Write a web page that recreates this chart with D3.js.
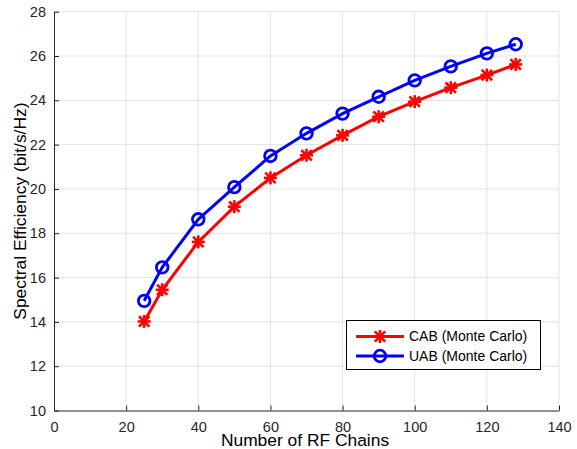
<!DOCTYPE html>
<html><head><meta charset="utf-8">
<script src="https://cdn.jsdelivr.net/npm/d3@7"></script>
<style>body{margin:0;background:#fff}svg{display:block}</style>
</head><body>
<svg id="c" width="577" height="449"></svg>
<script>
const rfChains = [25,30,40,50,60,70,80,90,100,110,120,128];
const cabValues = [14.02,15.45,17.61,19.20,20.50,21.52,22.42,23.26,23.94,24.57,25.14,25.62];
const uabValues = [14.95,16.46,18.63,20.08,21.49,22.51,23.40,24.16,24.90,25.53,26.12,26.53];
const xTicks = [0,20,40,60,80,100,120,140];
const yTicks = [10,12,14,16,18,20,22,24,26,28];
const seriesNames = ["CAB (Monte Carlo)","UAB (Monte Carlo)"];

const svg = d3.select("#c");
const x = d3.scaleLinear().domain([0,140]).range([54,559]);
const y = d3.scaleLinear().domain([10,28]).range([410.5,11.7]);
const axisCol = "#262626", gridCol = "#e3e3e3";
const font = "Liberation Sans, Arial, sans-serif";

// grid
svg.append("g").selectAll("line").data(xTicks.slice(1)).join("line")
  .attr("x1",d=>x(d)).attr("x2",d=>x(d)).attr("y1",y(10)).attr("y2",y(28))
  .attr("stroke",gridCol).attr("stroke-width",1);
svg.append("g").selectAll("line").data(yTicks.slice(1)).join("line")
  .attr("y1",d=>y(d)).attr("y2",d=>y(d)).attr("x1",x(0)).attr("x2",x(140))
  .attr("stroke",gridCol).attr("stroke-width",1);

// axes
const xAxis = d3.axisBottom(x).tickValues(xTicks).tickSizeInner(-5).tickSizeOuter(0).tickPadding(11);
const yAxis = d3.axisLeft(y).tickValues(yTicks).tickSizeInner(-5).tickSizeOuter(0).tickPadding(8);
const gx = svg.append("g").attr("transform",`translate(0,${y(10)})`).call(xAxis);
const gy = svg.append("g").attr("transform",`translate(${x(0)},0)`).call(yAxis);
[gx,gy].forEach(g=>{
  g.select(".domain").attr("stroke",axisCol).attr("stroke-width",1);
  g.selectAll(".tick line").attr("stroke",axisCol);
  g.selectAll(".tick text").attr("fill",axisCol).attr("font-family",font).attr("font-size",14.5);
});
gy.selectAll(".tick text").attr("dy","0.32em");

// labels
svg.append("text").attr("x",305).attr("y",446).attr("text-anchor","middle")
  .attr("font-family",font).attr("font-size",17.4).attr("fill","#000").text("Number of RF Chains");
svg.append("text").attr("transform",`translate(25.5,${(y(10)+y(28))/2}) rotate(-90)`).attr("text-anchor","middle")
  .attr("font-family",font).attr("font-size",17.4).attr("fill","#000").text("Spectral Efficiency (bit/s/Hz)");

// series
const line = d3.line().x(d=>x(d[0])).y(d=>y(d[1]));
function star(g,cx,cy,col){
  const r=6.5, r2=5.2;
  const gg=g.append("g").attr("stroke",col).attr("stroke-width",2.6);
  gg.append("line").attr("x1",cx-r).attr("x2",cx+r).attr("y1",cy).attr("y2",cy);
  gg.append("line").attr("x1",cx).attr("x2",cx).attr("y1",cy-r).attr("y2",cy+r);
  gg.append("line").attr("x1",cx-r2).attr("x2",cx+r2).attr("y1",cy-r2).attr("y2",cy+r2);
  gg.append("line").attr("x1",cx-r2).attr("x2",cx+r2).attr("y1",cy+r2).attr("y2",cy-r2);
}
const cabData = rfChains.map((c,i)=>[c,cabValues[i]]);
const uabData = rfChains.map((c,i)=>[c,uabValues[i]]);
svg.append("path").datum(cabData).attr("d",line).attr("fill","none").attr("stroke","#ff0000").attr("stroke-width",3);
const gs = svg.append("g");
cabData.forEach(d=>star(gs,x(d[0]),y(d[1]),"#ff0000"));
svg.append("path").datum(uabData).attr("d",line).attr("fill","none").attr("stroke","#0000ff").attr("stroke-width",3);
svg.append("g").selectAll("circle").data(uabData).join("circle")
  .attr("cx",d=>x(d[0])).attr("cy",d=>y(d[1])).attr("r",5.8)
  .attr("fill","none").attr("stroke","#0000ff").attr("stroke-width",2.8);

// legend
const lg = svg.append("g");
lg.append("rect").attr("x",346.5).attr("y",320.5).attr("width",194).attr("height",49)
  .attr("fill","#fff").attr("stroke","#000").attr("stroke-width",1);
const rows=[{n:seriesNames[0],c:"#ff0000",m:"star",yy:336.5},{n:seriesNames[1],c:"#0000ff",m:"circle",yy:356}];
rows.forEach(r=>{
  lg.append("line").attr("x1",356).attr("x2",404).attr("y1",r.yy).attr("y2",r.yy).attr("stroke",r.c).attr("stroke-width",3);
  if(r.m==="star") star(lg,380,r.yy,r.c);
  else lg.append("circle").attr("cx",380).attr("cy",r.yy).attr("r",5.8).attr("fill","none").attr("stroke",r.c).attr("stroke-width",2.8);
  lg.append("text").attr("x",409).attr("y",r.yy).attr("dy","0.35em").attr("font-family",font).attr("font-size",14)
    .attr("fill","#000").text(r.n);
});
</script>
</body></html>
